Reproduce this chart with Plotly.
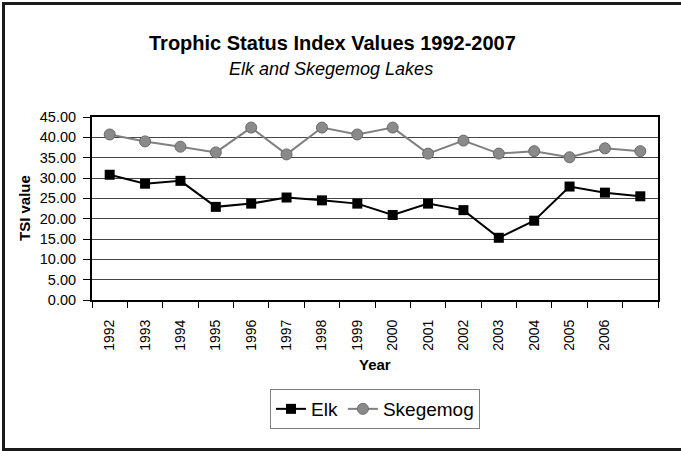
import plotly.graph_objects as go

years = [1992, 1993, 1994, 1995, 1996, 1997, 1998, 1999, 2000, 2001, 2002, 2003, 2004, 2005, 2006, 2007]
elk = [30.8, 28.6, 29.3, 22.9, 23.7, 25.2, 24.5, 23.7, 20.9, 23.7, 22.1, 15.3, 19.5, 27.9, 26.4, 25.5]
skegemog = [40.7, 39.0, 37.7, 36.3, 42.4, 35.8, 42.4, 40.7, 42.4, 36.0, 39.2, 36.0, 36.6, 35.1, 37.3, 36.6]
label_years = [1992, 1993, 1994, 1995, 1996, 1997, 1998, 1999, 2000, 2001, 2002, 2003, 2004, 2005, 2006]
y_ticks = [0, 5, 10, 15, 20, 25, 30, 35, 40, 45]

W, H = 681, 451
L, R, T, B = 92, 658, 117, 300
PW, PH = R - L, B - T

def px(x):
    return (x - L) / PW

def py(y):
    return (B - y) / PH

FONT = "Liberation Sans, Arial, sans-serif"

fig = go.Figure()
fig.add_trace(go.Scatter(
    x=years, y=elk, name="Elk", mode="lines+markers",
    line=dict(color="black", width=2),
    marker=dict(symbol="square", size=10, color="black"),
))
fig.add_trace(go.Scatter(
    x=years, y=skegemog, name="Skegemog", mode="lines+markers",
    line=dict(color="#808080", width=2),
    marker=dict(symbol="circle", size=11, color="#8a8a8a", line=dict(color="#6a6a6a", width=1)),
))

fig.update_layout(
    width=W, height=H,
    margin=dict(l=L, r=W - R, t=T, b=H - B),
    paper_bgcolor="white", plot_bgcolor="white",
    font=dict(family=FONT, color="black", size=14),
    showlegend=True,
    legend=dict(
        orientation="h", x=0.5, xanchor="center", y=py(389), yanchor="top",
        bordercolor="#808080", borderwidth=1, font=dict(size=19, family=FONT),
        itemwidth=30, tracegroupgap=0,
    ),
    xaxis=dict(
        range=[1991.5, 2007.5], tickmode="array", tickvals=label_years,
        ticktext=[str(v) for v in label_years], tickangle=-90,
        ticks="", ticklabelstandoff=12, showgrid=False, zeroline=False,
        showline=True, linecolor="black", linewidth=2, mirror=True,
        tickfont=dict(size=14, family=FONT),
        minor=dict(tickvals=[1991.5 + i for i in range(17)], ticks="outside",
                   ticklen=6, tickcolor="black", tickwidth=1, showgrid=False),
    ),
    yaxis=dict(
        range=[0, 45], tickmode="array", tickvals=y_ticks,
        ticktext=["%.2f" % v for v in y_ticks],
        ticks="outside", ticklen=7, tickcolor="black", tickwidth=1,
        ticklabelstandoff=4,
        showgrid=True, gridcolor="#454545", gridwidth=1, zeroline=False,
        showline=True, linecolor="black", linewidth=2, mirror=True,
        tickfont=dict(size=14.5, family=FONT),
    ),
    annotations=[
        dict(text="<b>Trophic Status Index Values 1992-2007</b>", x=px(332), y=py(43),
             xref="paper", yref="paper", showarrow=False, xanchor="center", yanchor="middle",
             font=dict(size=20, family=FONT)),
        dict(text="<i>Elk and Skegemog Lakes</i>", x=px(331), y=py(69),
             xref="paper", yref="paper", showarrow=False, xanchor="center", yanchor="middle",
             font=dict(size=18, family=FONT)),
        dict(text="<b>TSI value</b>", x=px(24), y=py(208), textangle=-90,
             xref="paper", yref="paper", showarrow=False, xanchor="center", yanchor="middle",
             font=dict(size=15, family=FONT)),
        dict(text="<b>Year</b>", x=px(375), y=py(364),
             xref="paper", yref="paper", showarrow=False, xanchor="center", yanchor="middle",
             font=dict(size=15, family=FONT)),
    ],
    shapes=[
        dict(type="rect", xref="paper", yref="paper",
             x0=px(3.5), x1=px(695), y0=py(449.5), y1=py(3.5),
             line=dict(color="#1a1a1a", width=3), layer="below"),
    ],
)

fig.write_html(
    "out.html",
    config={"displayModeBar": False},
    post_script="document.body.style.margin='0';document.body.style.padding='0';document.body.style.overflow='hidden';",
)
